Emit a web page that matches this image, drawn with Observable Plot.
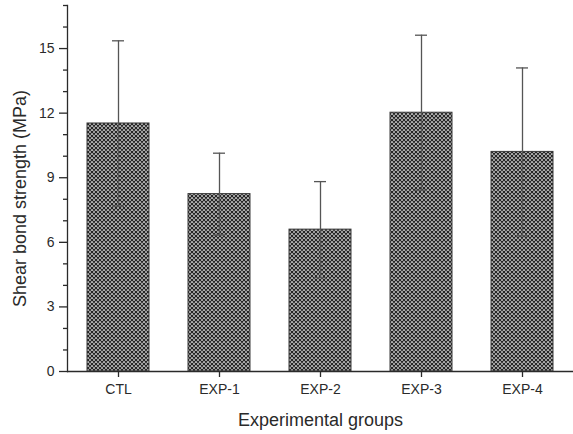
<!DOCTYPE html>
<html>
<head>
<meta charset="utf-8">
<script src="https://cdn.jsdelivr.net/npm/d3@7"></script>
<script src="https://cdn.jsdelivr.net/npm/@observablehq/plot@0.6"></script>
<style>
  html, body { margin: 0; padding: 0; background: #fff; }
  svg { display: block; }
</style>
</head>
<body>
<div id="chart"></div>
<script>
const groups = ["CTL", "EXP-1", "EXP-2", "EXP-3", "EXP-4"];
const means = [11.52, 8.24, 6.59, 12.02, 10.2];
const sds = [3.84, 1.9, 2.23, 3.6, 3.9];
const majorTicks = [0, 3, 6, 9, 12, 15];
const minorTicks = [1, 2, 4, 5, 7, 8, 10, 11, 13, 14, 16, 17];
const xTitle = "Experimental groups";
const yTitle = "Shear bond strength (MPa)";

const data = groups.map((g, i) => ({group: g, mean: means[i], lo: means[i] - sds[i], hi: means[i] + sds[i]}));

const ink = "#2a2a2a";
const font = "'Liberation Sans', Arial, sans-serif";

const svg = Plot.plot({
  width: 573,
  height: 434,
  marginLeft: 67,
  marginRight: 0,
  marginTop: 5,
  marginBottom: 63,
  style: {fontFamily: font, fontSize: "14px", color: ink, background: "#fff"},
  x: {domain: groups, paddingInner: 0.39, paddingOuter: 0.195, align: 0.5, label: null},
  y: {domain: [0, 17], label: null},
  marks: [
    Plot.barY(data, {x: "group", y: "mean", fill: "url(#xhatch)", stroke: "#3a3a3a", strokeWidth: 1}),
    Plot.ruleX(data, {x: "group", y1: "lo", y2: "hi", stroke: "#555", strokeWidth: 1.3}),
    Plot.tickY(data, {x: "group", y: "hi", stroke: "#555", strokeWidth: 1.3, insetLeft: 25, insetRight: 25}),
    Plot.tickY(data, {x: "group", y: "lo", stroke: "#555", strokeWidth: 1.3, insetLeft: 25, insetRight: 25}),
    Plot.ruleY([0], {stroke: ink, strokeWidth: 1.3}),
    Plot.frame({anchor: "left", stroke: ink, strokeWidth: 1.3}),
    Plot.axisY({ticks: majorTicks, tickSize: 8, tickPadding: 5, fontSize: 14, label: null, stroke: ink, strokeWidth: 1.3}),
    Plot.axisY({ticks: minorTicks, tickSize: 4, text: null, label: null, stroke: ink, strokeWidth: 1.3}),
    Plot.axisX({tickSize: 6, tickPadding: 7, fontSize: 14, label: null, stroke: ink, strokeWidth: 1.3}),
    Plot.text([xTitle], {frameAnchor: "bottom", dy: 49, lineAnchor: "middle", textAnchor: "middle", fontSize: 18, fill: ink}),
    Plot.text([yTitle], {frameAnchor: "left", dx: -47, dy: 10, rotate: -90, textAnchor: "middle", lineAnchor: "middle", fontSize: 18, fill: ink})
  ]
});

// cross-hatch fill pattern (diagonal crosshatch)
const ns = "http://www.w3.org/2000/svg";
const defs = document.createElementNS(ns, "defs");
defs.innerHTML = `
  <pattern id="xhatch" patternUnits="userSpaceOnUse" width="4" height="4">
    <rect width="4" height="4" fill="#ffffff"></rect>
    <path d="M-1,-1 L5,5 M5,-1 L-1,5 M-1,3 L1,5 M3,-1 L5,1 M3,5 L5,3 M-1,1 L1,-1" stroke="#262626" stroke-width="1.35" fill="none"></path>
  </pattern>`;
svg.insertBefore(defs, svg.firstChild);

document.getElementById("chart").appendChild(svg);
</script>
</body>
</html>
